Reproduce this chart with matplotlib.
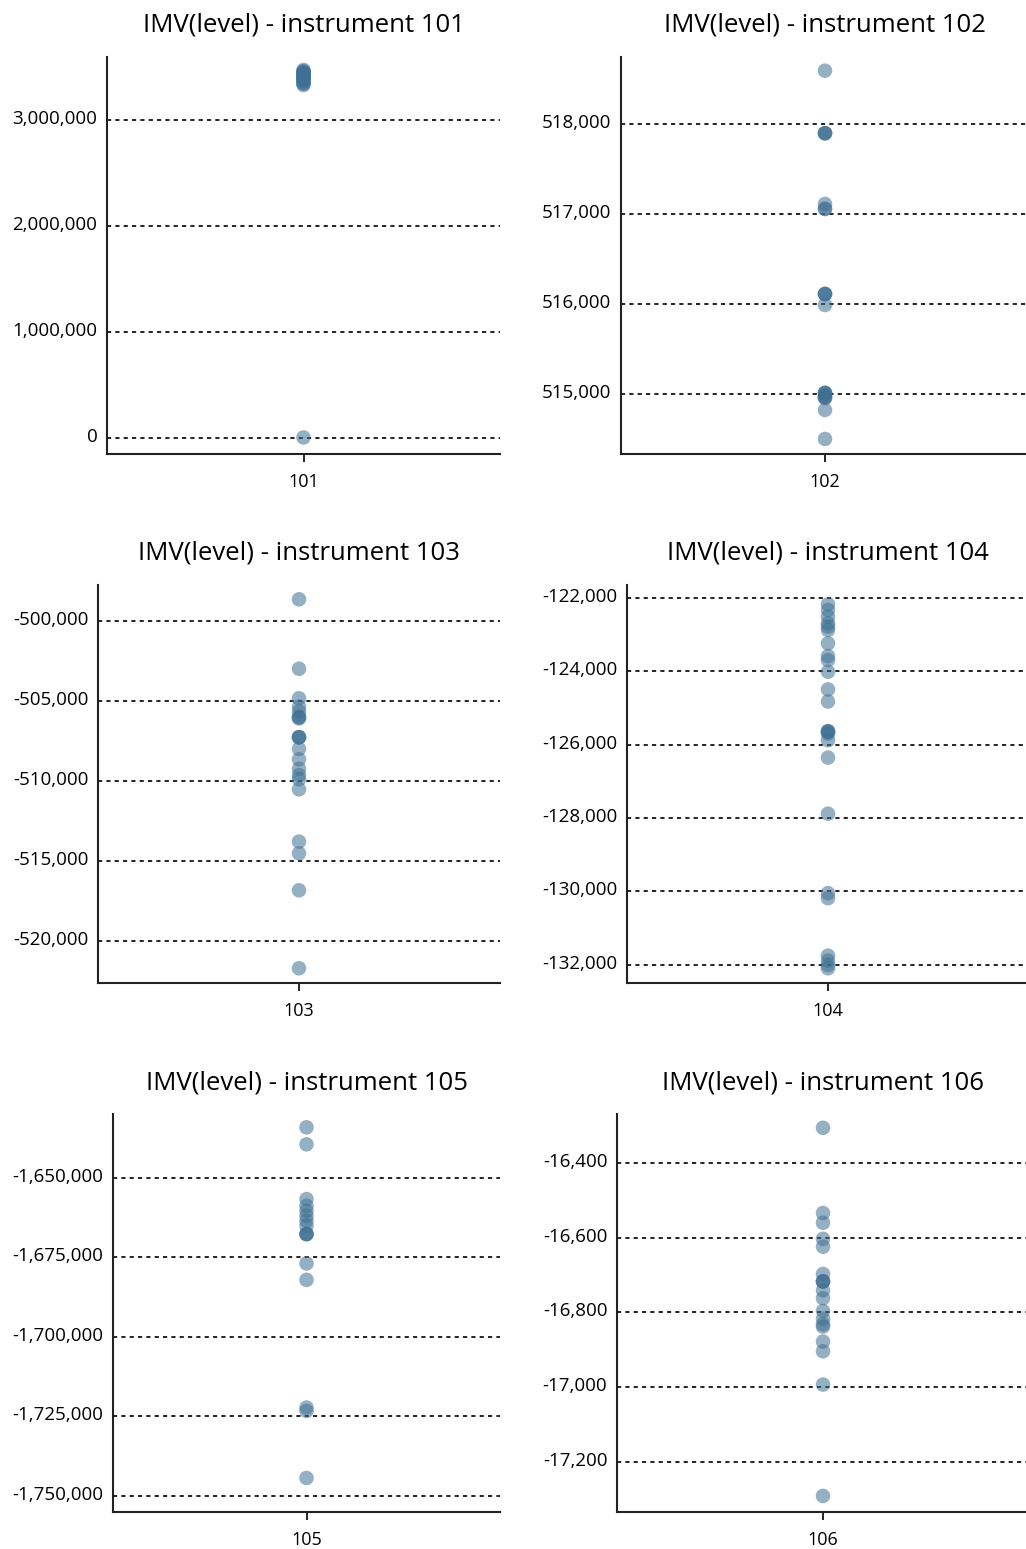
import numpy as np
import matplotlib
matplotlib.use("Agg")
import matplotlib.pyplot as plt
import matplotlib.transforms as mtransforms
from matplotlib.ticker import StrMethodFormatter

plt.rcParams['font.family'] = ['Open Sans', 'DejaVu Sans']
plt.rcParams['axes.unicode_minus'] = False

# instrument ids
instruments = ['101', '102', '103', '104', '105', '106']

# IMV(level) values
imv_101 = [3472000, 3460000, 3452000, 3445000, 3438000, 3430000, 3422000, 3415000,
           3408000, 3400000, 3392000, 3385000, 3375000, 3365000, 3352000, 3340000,
           3330000, 5000]
imv_102 = [518592, 517897, 517897, 517897, 517111, 517056, 517056, 516111, 516111,
           516111, 515989, 515011, 515011, 515011, 514975, 514975, 514956, 514956,
           514822, 514500]
imv_103 = [-498663, -503000, -504847, -505370, -505680, -506000, -506050, -506100,
           -507280, -507280, -507280, -508010, -508660, -509250, -509640, -509900,
           -510530, -513800, -514530, -516840, -521710]
imv_104 = [-122183, -122338, -122518, -122700, -122791, -122883, -123246, -123592,
           -123701, -124018, -124500, -124828, -125638, -125638, -125650, -125700,
           -125883, -126355, -127882, -130045, -130182, -131747, -131883, -132000,
           -132090]
imv_105 = [-1634150, -1639500, -1656700, -1658800, -1660380, -1661950, -1663520,
           -1665100, -1667700, -1667700, -1667700, -1676920, -1682080, -1722200,
           -1723270, -1744340]
imv_106 = [-16306, -16534, -16560, -16603, -16624, -16697, -16717, -16717, -16717,
           -16741, -16762, -16796, -16817, -16832, -16838, -16878, -16904, -16993,
           -17291]

# y ticks and limits per panel
ticks = [
    [0, 1000000, 2000000, 3000000],
    [515000, 516000, 517000, 518000],
    [-520000, -515000, -510000, -505000, -500000],
    [-132000, -130000, -128000, -126000, -124000, -122000],
    [-1750000, -1725000, -1700000, -1675000, -1650000],
    [-17200, -17000, -16800, -16600, -16400],
]
ylims = [
    (-151000, 3594000),
    (514333, 518744),
    (-522630, -497770),
    (-132491, -121657),
    (-1755030, -1629970),
    (-17334, -16269),
]
all_values = [imv_101, imv_102, imv_103, imv_104, imv_105, imv_106]

W, H = 1026, 1549
fig = plt.figure(figsize=(W / 100, H / 100), dpi=100)

# axes boxes in pixels: left, top, right, bottom
boxes = [
    (107, 57, 500, 454),
    (621, 57, 1029, 454),
    (98, 585, 500, 983),
    (627, 585, 1029, 983),
    (113, 1114, 500, 1512),
    (617, 1114, 1029, 1512),
]

# lift y tick labels a little above their gridlines
lift = mtransforms.ScaledTranslation(0, 3 / 100, fig.dpi_scale_trans)

for i, (inst, vals) in enumerate(zip(instruments, all_values)):
    l, t, r, b = boxes[i]
    ax = fig.add_axes([l / W, 1 - b / H, (r - l) / W, (b - t) / H])
    ax.scatter([inst] * len(vals), vals, s=110, color='#3f7093', alpha=0.55,
               edgecolors='none', zorder=3)
    ax.set_xlim(-0.5, 0.5)
    ax.set_ylim(*ylims[i])
    ax.set_yticks(ticks[i])
    ax.yaxis.set_major_formatter(StrMethodFormatter('{x:,.0f}'))
    ax.yaxis.grid(True, linestyle=(0, (2.5, 2.5)), color='black', linewidth=1.2)
    ax.set_axisbelow(True)
    for side in ['top', 'right']:
        ax.spines[side].set_visible(False)
    for side in ['left', 'bottom']:
        ax.spines[side].set_linewidth(1.5)
        ax.spines[side].set_color('#222222')
    ax.tick_params(axis='y', length=0, labelsize=13.5, pad=7)
    for lab in ax.get_yticklabels():
        lab.set_transform(lab.get_transform() + lift)
    ax.tick_params(axis='x', length=6, width=1.2, labelsize=13, pad=8)
    ax.set_title('IMV(level) - instrument ' + inst, fontsize=18.5, pad=18)

fig.savefig('out.png', dpi=100)
